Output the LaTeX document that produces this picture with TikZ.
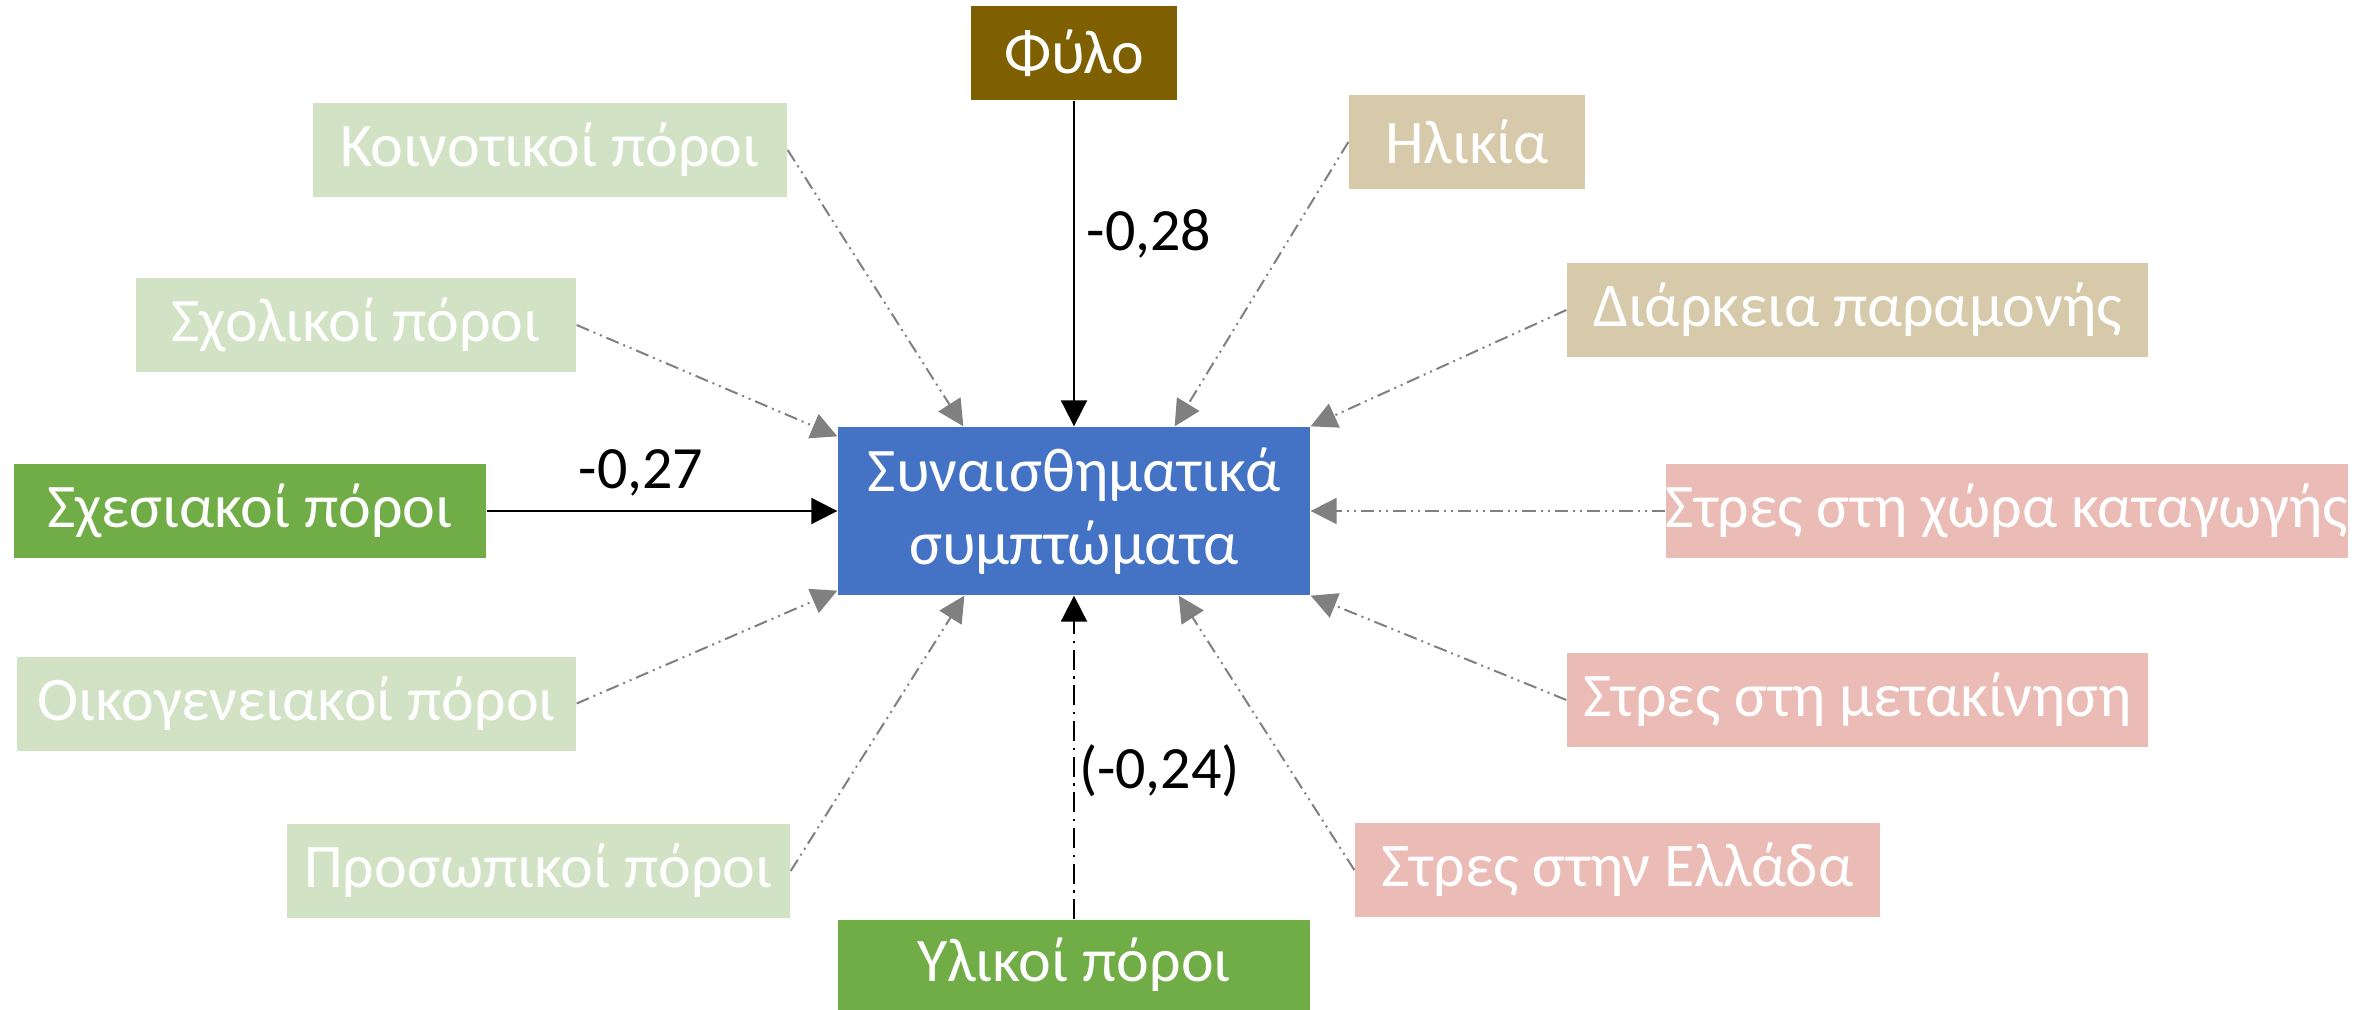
\documentclass[tikz,border=0pt]{standalone}
\usepackage{fontspec}
\setmainfont{Carlito}
\usetikzlibrary{arrows.meta,calc}
\definecolor{cbrown}{HTML}{7F6000}
\definecolor{cltgreen}{HTML}{D1E3C4}
\definecolor{ctan}{HTML}{D6CAAB}
\definecolor{cpink}{HTML}{EBBBB6}
\definecolor{cgreen}{HTML}{70AD47}
\definecolor{cblue}{HTML}{4472C4}
\definecolor{cgray}{HTML}{808080}
\tikzset{
  box/.style={rectangle, inner sep=0pt, text=white, font=\fontsize{18.6}{22}\selectfont, align=center},
  lbl/.style={font=\fontsize{18}{22}\selectfont, text=black, inner sep=0pt},
  solidarrow/.style={draw=black, line width=0.6pt, -{Triangle[length=7.8pt,width=7.8pt]}},
  dasharrow/.style={draw=black, line width=0.6pt, dash pattern=on 6pt off 2pt on 0.7pt off 2pt, -{Triangle[length=7.8pt,width=7.8pt]}},
  grayarrow/.style={draw=cgray, line width=0.6pt, dash pattern=on 4pt off 1.5pt on 0.6pt off 1.5pt on 0.6pt off 1.5pt, -{Triangle[length=7.8pt,width=7.8pt]}},
}
\begin{document}
\begin{tikzpicture}[x=0.3pt,y=-0.3pt]
\useasboundingbox (0,0) rectangle (2372,1010);
% boxes: center at ((x1+x2)/2,(y1+y2)/2)
\node[box, fill=cblue, minimum width=472*0.3pt, minimum height=168*0.3pt] (c) at (1074,511) {Συναισθηματικά\\συμπτώματα};
\node[box, fill=cbrown, minimum width=206*0.3pt, minimum height=94*0.3pt] (fylo) at (1074,53) {Φύλο};
\node[box, fill=cltgreen, minimum width=474*0.3pt, minimum height=94*0.3pt] (koin) at (550,150) {Κοινοτικοί πόροι};
\node[box, fill=ctan, minimum width=236*0.3pt, minimum height=94*0.3pt] (ilik) at (1467,142) {Ηλικία};
\node[box, fill=cltgreen, minimum width=440*0.3pt, minimum height=94*0.3pt] (sxol) at (356,325) {Σχολικοί πόροι};
\node[box, fill=ctan, minimum width=581*0.3pt, minimum height=94*0.3pt] (diar) at (1857.5,310) {Διάρκεια παραμονής};
\node[box, fill=cgreen, minimum width=472*0.3pt, minimum height=94*0.3pt] (sxes) at (250,511) {Σχεσιακοί πόροι};
\node[box, fill=cpink, minimum width=682*0.3pt, minimum height=94*0.3pt] (xora) at (2007,511) {Στρες στη χώρα καταγωγής};
\node[box, fill=cltgreen, minimum width=559*0.3pt, minimum height=94*0.3pt] (oik) at (296.5,703.5) {Οικογενειακοί πόροι};
\node[box, fill=cpink, minimum width=581*0.3pt, minimum height=94*0.3pt] (meta) at (1857.5,700) {Στρες στη μετακίνηση};
\node[box, fill=cltgreen, minimum width=503*0.3pt, minimum height=94*0.3pt] (pros) at (538.5,871) {Προσωπικοί πόροι};
\node[box, fill=cpink, minimum width=525*0.3pt, minimum height=94*0.3pt] (ell) at (1617.5,870) {Στρες στην Ελλάδα};
\node[box, fill=cgreen, minimum width=472*0.3pt, minimum height=90*0.3pt] (ylik) at (1074,965) {Υλικοί πόροι};
% connectors
\draw[solidarrow] (fylo.south) -- node[lbl, pos=0.41, anchor=west, xshift=3.5pt] {-0,28} (c.north);
\draw[solidarrow] (sxes.east) -- node[lbl, pos=0.44, anchor=south, yshift=4pt] {-0,27} (c.west);
\draw[dasharrow] (ylik.north) -- node[lbl, pos=0.46, anchor=west, xshift=1.2pt] {(-0,24)} (c.south);
\draw[grayarrow] (koin.east) -- ($(c.north west)+(126,0)$);
\draw[grayarrow] (sxol.east) -- ($(c.north west)+(0,10)$);
\draw[grayarrow] (ilik.west) -- ($(c.north east)+(-136,0)$);
\draw[grayarrow] (diar.west) -- (c.north east);
\draw[grayarrow] (xora.west) -- (c.east);
\draw[grayarrow] (oik.east) -- ($(c.south west)+(0,-5)$);
\draw[grayarrow] (meta.west) -- (c.south east);
\draw[grayarrow] (pros.east) -- ($(c.south west)+(127,0)$);
\draw[grayarrow] (ell.west) -- ($(c.south east)+(-132,0)$);
\end{tikzpicture}
\end{document}
